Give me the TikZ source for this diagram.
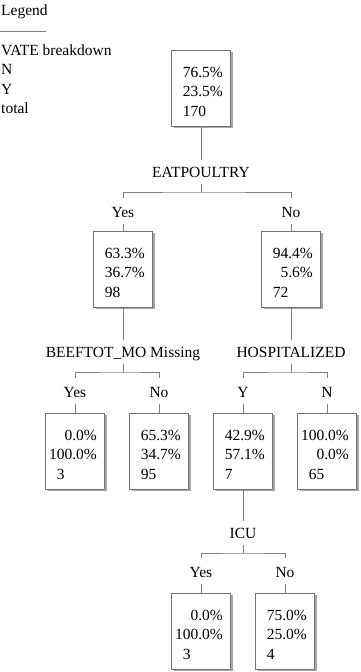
\documentclass[tikz,border=0pt]{standalone}
\usepackage{fontspec}
\setmainfont{Liberation Serif}
\usetikzlibrary{shadows}
\newcommand\dpad{\phantom{0}}
\newcommand\stats[3]{\rule{0pt}{21pt}#1\\#2\\#3\rule[-4pt]{0pt}{0pt}}

\begin{document}
\begin{tikzpicture}[x=1pt,y=-1pt,
	font=\fontsize{15.5}{19.5}\selectfont,
	leaf/.style={draw=black!55, fill=white, anchor=north, minimum width=59pt, minimum height=76pt, text width=52pt, inner xsep=3.5pt, inner ysep=0pt, align=left, general shadow={fill=black!35, shadow xshift=2pt, shadow yshift=-2pt}},
	split/.style={anchor=base, text height=15pt, text depth=5pt, inner xsep=1pt, inner ysep=2pt},
	val/.style={anchor=base, text height=17pt, text depth=5pt, inner xsep=1pt, inner ysep=2pt},
	link/.style={draw=black!50, line width=0.8pt}]
	\useasboundingbox (0,0) rectangle (360,672);
	\node[anchor=base west, inner sep=0pt] (legend) at (1,15) {Legend};
	\draw[link] (0,31) -- (46,31);
	\node[anchor=base west, inner sep=0pt] (lgtitle) at (1,55) {VATE breakdown};
	\node[anchor=base west, inner sep=0pt] (lgN) at (1,74.5) {N};
	\node[anchor=base west, inner sep=0pt] (lgY) at (1,94) {Y};
	\node[anchor=base west, inner sep=0pt] (lgtotal) at (1,113.5) {total};

	\node[leaf] (root) at (201,50) {\stats{\dpad76.5\%}{\dpad23.5\%}{\dpad170}};
	\node[split] (eat) at (201,177) {EATPOULTRY};
	\coordinate (eatJ) at (201,192);
	\node[val] (eatY) at (123,217) {Yes};
	\node[val] (eatN) at (291,217) {No};
	\node[leaf] (poY) at (123,231) {\stats{\dpad63.3\%}{\dpad36.7\%}{\dpad98}};
	\node[leaf] (poN) at (291,231) {\stats{\dpad94.4\%}{\dpad\dpad5.6\%}{\dpad72}};

	\node[split] (beef) at (123,357) {BEEFTOT\_MO Missing};
	\coordinate (beefJ) at (123,372);
	\node[val] (beefY) at (75,397) {Yes};
	\node[val] (beefN) at (159,397) {No};
	\node[leaf] (bfY) at (75,413) {\stats{\dpad\dpad0.0\%}{100.0\%}{\dpad3}};
	\node[leaf] (bfN) at (159,413) {\stats{\dpad65.3\%}{\dpad34.7\%}{\dpad95}};

	\node[split] (hosp) at (291,357) {HOSPITALIZED};
	\coordinate (hospJ) at (291,372);
	\node[val] (hospY) at (243,397) {Y};
	\node[val] (hospN) at (327,397) {N};
	\node[leaf] (hoY) at (243,413) {\stats{\dpad42.9\%}{\dpad57.1\%}{\dpad7}};
	\node[leaf] (hoN) at (327,413) {\stats{100.0\%}{\dpad\dpad0.0\%}{\dpad65}};

	\node[split] (icu) at (243,538) {ICU};
	\coordinate (icuJ) at (243,553);
	\node[val] (icuY) at (201,577) {Yes};
	\node[val] (icuN) at (285,577) {No};
	\node[leaf] (icY) at (201,593) {\stats{\dpad\dpad0.0\%}{100.0\%}{\dpad3}};
	\node[leaf] (icN) at (285,593) {\stats{\dpad75.0\%}{\dpad25.0\%}{\dpad4}};

	\draw[link] (root) -- (eat);
	\draw[link] (eat) -- (eatJ);
	\draw[link] (eatY) |- (eatJ) -| (eatN);
	\draw[link] (eatY) -- (poY);
	\draw[link] (eatN) -- (poN);
	\draw[link] (poY) -- (beef);
	\draw[link] (beef) -- (beefJ);
	\draw[link] (beefY) |- (beefJ) -| (beefN);
	\draw[link] (beefY) -- (bfY);
	\draw[link] (beefN) -- (bfN);
	\draw[link] (poN) -- (hosp);
	\draw[link] (hosp) -- (hospJ);
	\draw[link] (hospY) |- (hospJ) -| (hospN);
	\draw[link] (hospY) -- (hoY);
	\draw[link] (hospN) -- (hoN);
	\draw[link] (hoY) -- (icu);
	\draw[link] (icu) -- (icuJ);
	\draw[link] (icuY) |- (icuJ) -| (icuN);
	\draw[link] (icuY) -- (icY);
	\draw[link] (icuN) -- (icN);
\end{tikzpicture}
\end{document}
